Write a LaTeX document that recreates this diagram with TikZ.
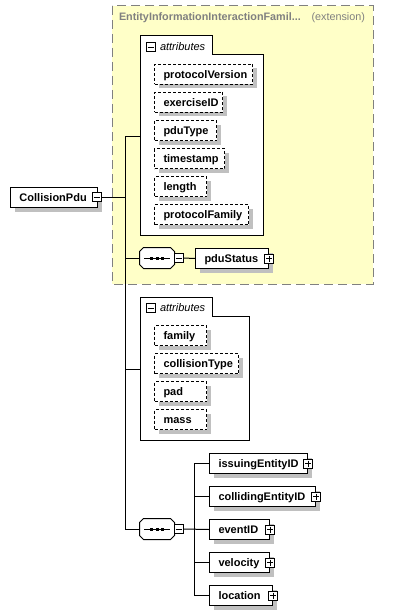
\documentclass[tikz,border=0pt]{standalone}
\usepackage{fontspec}
\setmainfont{Liberation Sans}
\usetikzlibrary{shadows}
\definecolor{extfill}{HTML}{FFFFC8}
\definecolor{shadowgray}{HTML}{C0C0C0}
\definecolor{titlegray}{HTML}{808080}
\newcommand{\octpath}[1]{([xshift=4pt]#1.north west) -- ([xshift=-4pt]#1.north east) -- ([yshift=-4pt]#1.north east) -- ([yshift=4pt]#1.south east) -- ([xshift=-4pt]#1.south east) -- ([xshift=4pt]#1.south west) -- ([yshift=4pt]#1.south west) -- ([yshift=-4pt]#1.north west) -- cycle}
\begin{document}
\begin{tikzpicture}[x=1pt,y=-1pt,line width=1pt,
  shadowed/.style={drop shadow={shadow xshift=4pt,shadow yshift=-4pt,fill=shadowgray,opacity=1}},
  elem/.style={draw,fill=white,shadowed,inner xsep=9pt,inner ysep=0pt,minimum height=20pt,
    anchor=north west,align=left,font=\fontsize{11}{12}\selectfont\bfseries,
    text height=7.8pt,text depth=0pt},
  attr/.style={elem,dash pattern=on 3pt off 2pt},
  iconbox/.style={draw,solid,fill=white,minimum size=9pt,inner sep=0pt},
  minusicon/.style={iconbox,path picture={\draw[line width=0.8pt]
    ([xshift=1.5pt]path picture bounding box.west) -- ([xshift=-1.5pt]path picture bounding box.east);}},
  plusicon/.style={iconbox,path picture={\draw[line width=0.8pt]
    ([xshift=1.5pt]path picture bounding box.west) -- ([xshift=-1.5pt]path picture bounding box.east)
    ([yshift=-1.5pt]path picture bounding box.north) -- ([yshift=1.5pt]path picture bounding box.south);}},
  seq/.style={draw=none,minimum width=34pt,minimum height=20pt,inner sep=0pt},
  grp/.style={draw,fill=white},
  grplabel/.style={anchor=west,inner sep=0pt,font=\fontsize{11}{12}\selectfont\itshape}
]
\useasboundingbox (0,0) rectangle (417,615);

% extension box
\draw[titlegray,fill=extfill,dash pattern=on 9pt off 5pt] (112,6) rectangle (373,284);
\node[anchor=west,inner sep=0pt,text=titlegray,font=\fontsize{10.8}{12}\selectfont\bfseries] (exttitle) at (118.5,18) {EntityInformationInteractionFamil...};
\node[anchor=west,inner sep=0pt,text=titlegray,font=\fontsize{10.8}{12}\selectfont] (extlabel) at (311,18) {(extension)};

% first attribute group
\draw[grp] (140,36) -- (212,36) -- (212,55) -- (263,55) -- (263,235) -- (140,235) -- cycle;
\coordinate (a1) at (140,136);
\node[minusicon] (a1m) at (150.5,47) {};
\node[grplabel] (a1l) at (159.5,47) {attributes};
\node[attr,text width=80pt] (pv) at (154,64) {protocolVersion};
\node[attr,text width=50pt] (ex) at (154,92) {exerciseID};
\node[attr,text width=44pt] (pt) at (154,120) {pduType};
\node[attr,text width=52pt] (ts) at (154,148) {timestamp};
\node[attr,text width=34pt] (le) at (154,176) {length};
\node[attr,text width=76pt] (pf) at (154,204) {protocolFamily};

% root element
\node[elem,text width=69pt] (cp) at (10,187) {CollisionPdu};
\node[minusicon] (cpm) at (96.5,197) {};

% first sequence
\node[seq] (s1) at (157,258) {};
\fill[shadowgray,shift={(4,4)}] \octpath{s1};
\draw[fill=white] \octpath{s1};
\draw ([xshift=-13pt]s1.center) -- ([xshift=13pt]s1.center);
\foreach \dx in {-5.5,0,5.5}{\fill ([xshift=\dx pt-1.5pt,yshift=-1.5pt]s1.center) rectangle ([xshift=\dx pt+1.5pt,yshift=1.5pt]s1.center);}
\node[minusicon] (s1m) at (178.5,258) {};
\node[elem,text width=55pt] (ps) at (195,248) {pduStatus};
\node[plusicon] (psp) at (ps.east) {};

% second attribute group
\draw[grp] (140,297) -- (212,297) -- (212,316) -- (249,316) -- (249,440) -- (140,440) -- cycle;
\coordinate (a2) at (140,369);
\node[minusicon] (a2m) at (150.5,308) {};
\node[grplabel] (a2l) at (159.5,308) {attributes};
\node[attr,text width=34pt] (fa) at (154,325) {family};
\node[attr,text width=66pt] (ct) at (154,353) {collisionType};
\node[attr,text width=34pt] (pa) at (154,381) {pad};
\node[attr,text width=34pt] (ma) at (154,409) {mass};

% second sequence
\node[seq] (s2) at (157,529) {};
\fill[shadowgray,shift={(4,4)}] \octpath{s2};
\draw[fill=white] \octpath{s2};
\draw ([xshift=-13pt]s2.center) -- ([xshift=13pt]s2.center);
\foreach \dx in {-5.5,0,5.5}{\fill ([xshift=\dx pt-1.5pt,yshift=-1.5pt]s2.center) rectangle ([xshift=\dx pt+1.5pt,yshift=1.5pt]s2.center);}
\node[minusicon] (s2m) at (178.5,529) {};
\node[elem,text width=80pt] (ie) at (209,453) {issuingEntityID};
\node[plusicon] (iep) at (ie.east) {};
\node[elem,text width=88pt] (ce) at (209,486) {collidingEntityID};
\node[plusicon] (cep) at (ce.east) {};
\node[elem,text width=42pt] (ev) at (209,519) {eventID};
\node[plusicon] (evp) at (ev.east) {};
\node[elem,text width=42pt] (ve) at (209,552) {velocity};
\node[plusicon] (vep) at (ve.east) {};
\node[elem,text width=45pt] (lo) at (209,585) {location};
\node[plusicon] (lop) at (lo.east) {};

% connectors
\draw (cpm.east) -- ++(24,0);
\draw (a1) -- ++(-15,0) |- (s2.west);
\draw (s1.west) -- ++(-15,0);
\draw (a2) -- ++(-15,0);
\draw (s1m.east) -- (ps.west);
\draw (s2m.east) -- (ev.west);
\draw (ie.west) -- ++(-15,0) |- (lo.west);
\draw (ce.west) -- ++(-15,0);
\draw (ve.west) -- ++(-15,0);
\end{tikzpicture}
\end{document}
